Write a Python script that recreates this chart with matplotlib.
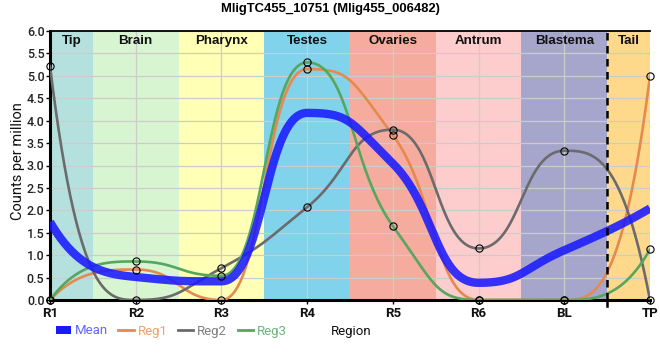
import numpy as np
import matplotlib
matplotlib.use("Agg")
import matplotlib.pyplot as plt
from matplotlib.patches import Patch
from matplotlib.lines import Line2D
from matplotlib import transforms

# ---- data ----
regions_x = ['R1', 'R2', 'R3', 'R4', 'R5', 'R6', 'BL', 'TP']
reg1 = [0.0, 0.68, 0.0, 5.15, 3.68, 0.0, 0.0, 5.00]
reg2 = [5.22, 0.0, 0.71, 2.07, 3.80, 1.15, 3.33, 0.0]
reg3 = [0.0, 0.86, 0.54, 5.30, 1.65, 0.0, 0.0, 1.13]
band_names = ['Tip', 'Brain', 'Pharynx', 'Testes', 'Ovaries', 'Antrum', 'Blastema', 'Tail']
band_edges = [0, 0.5, 1.5, 2.5, 3.5, 4.5, 5.5, 6.5, 7]
band_colors = ['#b4e1dd', '#d7f5d0', '#ffffb6', '#80d3ea', '#f5ab9e', '#fdcccc', '#a6a6cc', '#fed98c']
yticks = [0.0, 0.5, 1.0, 1.5, 2.0, 2.5, 3.0, 3.5, 4.0, 4.5, 5.0, 5.5, 6.0]
title = 'MligTC455_10751 (Mlig455_006482)'

mean = list(np.mean([reg1, reg2, reg3], axis=0))


def smooth_curve(y, a=0.5, m=120):
    """Smooth spline through the points (flat at local extremes)."""
    y = np.asarray(y, float)
    n = len(y)
    d = np.zeros(n)
    for k in range(1, n - 1):
        p, b, c = y[k - 1], y[k], y[k + 1]
        if (b - p) * (c - b) <= 0:
            continue
        s = (c - p) / 2.0
        s = np.sign(s) * min(abs(s), abs(c - b) / a, abs(b - p) / a)
        d[k] = s
    d[0] = 3 * (y[1] - y[0]) - 2 * d[1]
    d[-1] = 3 * (y[-1] - y[-2]) - 2 * d[-2]
    X, Y = [], []
    s = np.linspace(0, 1, m)
    for k in range(n - 1):
        if k == 0 or k == n - 2:
            t = s
            h00 = 2 * t**3 - 3 * t**2 + 1
            h10 = t**3 - 2 * t**2 + t
            h01 = -2 * t**3 + 3 * t**2
            h11 = t**3 - t**2
            X.append(k + t)
            Y.append(h00 * y[k] + h10 * d[k] + h01 * y[k + 1] + h11 * d[k + 1])
        else:
            px = [k, k + a, k + 1 - a, k + 1]
            py = [y[k], y[k] + a * d[k], y[k + 1] - a * d[k + 1], y[k + 1]]
            b0, b1, b2, b3 = (1 - s)**3, 3 * (1 - s)**2 * s, 3 * (1 - s) * s**2, s**3
            X.append(b0 * px[0] + b1 * px[1] + b2 * px[2] + b3 * px[3])
            Y.append(b0 * py[0] + b1 * py[1] + b2 * py[2] + b3 * py[3])
    return np.concatenate(X), np.concatenate(Y)


W, H = 660, 360
fig = plt.figure(figsize=(W / 100, H / 100), dpi=100)
ax = fig.add_axes([50 / W, 60 / H, 600 / W, 269 / H])

x = np.arange(len(regions_x))
narrow = ['Liberation Sans Narrow', 'Liberation Sans', 'DejaVu Sans']

# bands
for i, name in enumerate(band_names):
    ax.axvspan(band_edges[i], band_edges[i + 1], color=band_colors[i], zorder=0.1, lw=0)
    ax.text((band_edges[i] + band_edges[i + 1]) / 2, 0.962, name,
            transform=transforms.blended_transform_factory(ax.transData, ax.transAxes),
            ha='center', va='center', fontsize=9.6, fontweight='bold',
            family=narrow, color='#111111', zorder=6)

ax.set_axisbelow(True)
ax.grid(True, color='#cccccc', lw=0.9)

c1, c2, c3, cm = '#e58a4e', '#6b6b6b', '#57a65f', '#1a1aff'
for ys, c in [(reg1, c1), (reg2, c2), (reg3, c3)]:
    cx, cy = smooth_curve(ys)
    ax.plot(cx, cy, color=c, lw=1.9, zorder=3, solid_capstyle='round')
mx, my = smooth_curve(mean)
ax.plot(mx, my, color=cm, lw=6.0, alpha=0.88, zorder=4, solid_capstyle='butt')
for ys in [reg1, reg2, reg3]:
    ax.plot(x, ys, ls='none', marker='o', ms=5.2, mfc='none', mec='black', mew=0.8,
            zorder=6, clip_on=False)

# tail plot line
ax.axvline(6.5, color='black', lw=1.8, ls=(0, (3, 2.2)), zorder=5)
ax.plot([6.5, 6.5], [0, -0.13], color='black', lw=1.8, clip_on=False, zorder=5)

ax.set_xlim(0, 7)
ax.set_ylim(0, 6)
ax.set_xticks(x)
ax.set_xticklabels(regions_x, fontsize=9.5, fontweight='bold', family='Roboto', color='#111111')
ax.set_yticks(yticks)
ax.set_yticklabels([f'{v:.1f}' for v in yticks], fontsize=9, family='Roboto', fontweight='medium',
                   color='#222222')
ax.tick_params(axis='x', length=3, width=1, pad=2)
ax.tick_params(axis='y', length=3, width=1, pad=1)

for sp in ['left', 'bottom']:
    ax.spines[sp].set_linewidth(2.2)
    ax.spines[sp].set_color('black')
ax.spines['top'].set_linewidth(1.3)
ax.spines['right'].set_visible(False)

fig.text(330 / W, 1 - 9 / H, title, ha='center', va='center', fontsize=9.4, fontweight='bold',
         family=narrow)
fig.text(18 / W, 1 - 161 / H, 'Counts per million', rotation=90, ha='center', va='center',
         fontsize=10.5, family='Roboto', color='#111111')
fig.text(351 / W, 1 - 332 / H, 'Region', ha='center', va='center', fontsize=9.5, family='Roboto',
         color='#111111')

handles = [Patch(facecolor=cm, edgecolor='none'),
           Line2D([], [], color=c1, lw=2),
           Line2D([], [], color=c2, lw=2),
           Line2D([], [], color=c3, lw=2)]
labels = ['Mean', 'Reg1', 'Reg2', 'Reg3']
leg = fig.legend(handles, labels, loc='center left', bbox_to_anchor=(49 / W, 1 - 331 / H), ncol=4,
                 frameon=False, borderpad=0, handlelength=1.15, handleheight=0.5, handletextpad=0.3,
                 columnspacing=0.8, prop={'family': 'Roboto', 'size': 9.5})
for txt, col in zip(leg.get_texts(), ['#6464ff', '#eba272', '#808080', '#6cb47a']):
    txt.set_color(col)

fig.savefig('out.png', dpi=100)
